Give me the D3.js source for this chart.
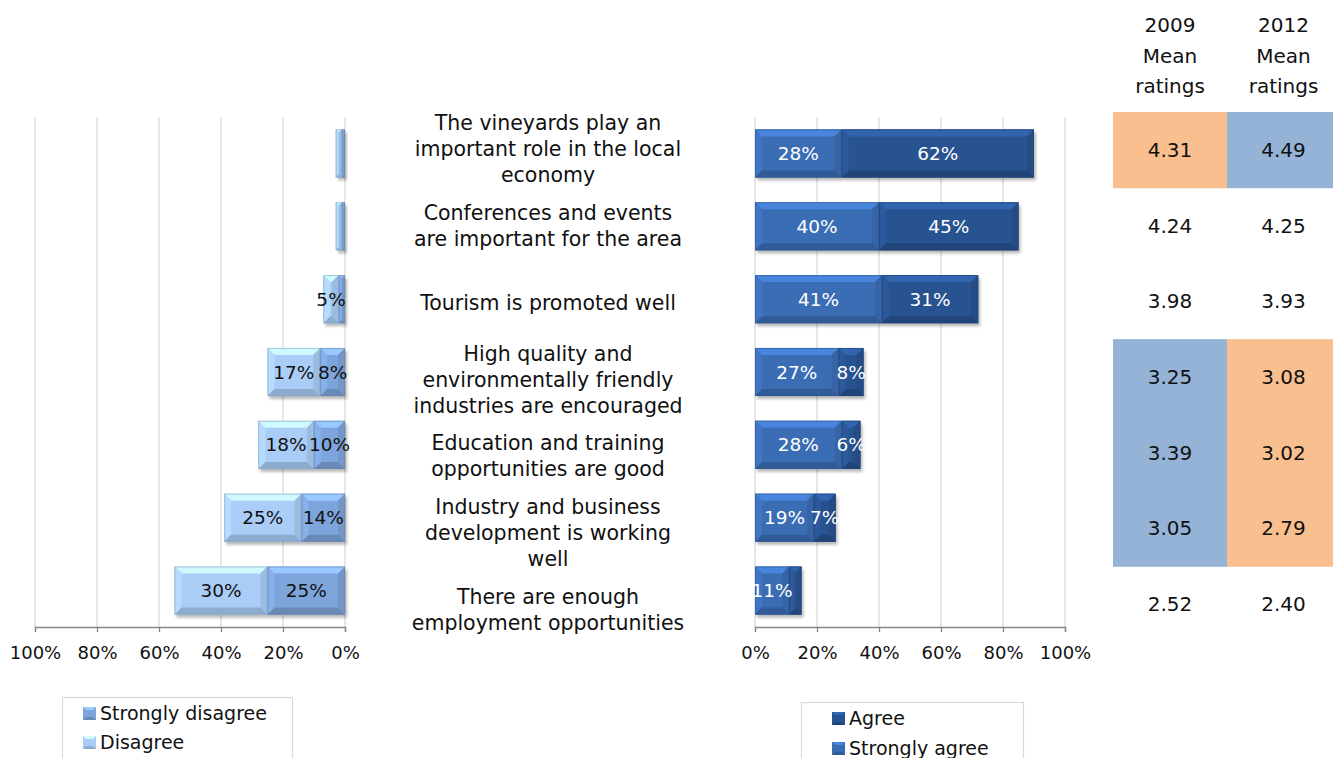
<!DOCTYPE html>
<html>
<head>
<meta charset="utf-8">
<script src="https://cdn.jsdelivr.net/npm/d3@7"></script>
<style>
  html, body { margin: 0; padding: 0; background: #fff; }
  svg { display: block; font-family: "DejaVu Sans", sans-serif; }
</style>
</head>
<body>
<svg id="chart" width="1333" height="758"></svg>
<script>
// Survey statements, one per row (pre-broken into display lines)
const statements = [
  ["The vineyards play an", "important role in the local", "economy"],
  ["Conferences and events", "are important for the area"],
  ["Tourism is promoted well"],
  ["High quality and", "environmentally friendly", "industries are encouraged"],
  ["Education and training", "opportunities are good"],
  ["Industry and business", "development is working", "well"],
  ["There are enough", "employment opportunities"]
];

// Share of respondents (%)
const stronglyDisagree = [1, 1, 2, 8, 10, 14, 25];
const disagree         = [2, 2, 5, 17, 18, 25, 30];
const agree            = [28, 40, 41, 27, 28, 19, 11];
const stronglyAgree    = [62, 45, 31, 8, 6, 7, 4];

// Mean ratings per survey year
const mean2009 = [4.31, 4.24, 3.98, 3.25, 3.39, 3.05, 2.52];
const mean2012 = [4.49, 4.25, 3.93, 3.08, 3.02, 2.79, 2.40];
const significantChange = [true, false, false, true, true, true, false];

const tickValues = [0, 20, 40, 60, 80, 100];
const tableHeaders = [["2009", "Mean", "ratings"], ["2012", "Mean", "ratings"]];

const colors = {
  stronglyDisagree: "#7ea5db",
  disagree: "#a9cdf6",
  agree: "#3b6db5",
  stronglyAgree: "#285391",
  higher: "#95b3d7",
  lower: "#f9bf8f",
  grid: "#d9d9d9",
  axis: "#868686"
};

const svg = d3.select("#chart");
const defs = svg.append("defs");
defs.append("filter").attr("id", "shadow")
  .attr("x", "-10%").attr("y", "-20%").attr("width", "130%").attr("height", "160%")
  .append("feGaussianBlur").attr("stdDeviation", 1.6);

const rows = d3.range(statements.length);
const plotTop = 117, plotBottom = 627;

const y = d3.scaleBand().domain(rows).range([plotTop, plotBottom])
  .paddingInner(0.34).paddingOuter(0.17);
const yLabel = d3.scaleBand().domain(rows).range([111, 648]);
const yTable = d3.scaleBand().domain(rows).range([112, 642]);

const xLeft = d3.scaleLinear().domain([0, 100]).range([345, 35]);
const xRight = d3.scaleLinear().domain([0, 100]).range([755, 1065]);

// Bar with an Office-style bevel and soft drop shadow
function bevelBar(g, x0, y0, w, h, color) {
  if (w <= 0) return;
  const b = Math.min(7, w / 2, h / 2);
  const c = d3.color(color);
  g.append("rect").attr("x", x0 + 2).attr("y", y0 + 3).attr("width", w).attr("height", h)
    .attr("fill", "#000").attr("opacity", 0.28).attr("filter", "url(#shadow)");
  g.append("rect").attr("x", x0).attr("y", y0).attr("width", w).attr("height", h)
    .attr("fill", c.formatHex());
  const pts = (arr) => arr.map(p => p.join(",")).join(" ");
  const x1 = x0 + w, y1 = y0 + h;
  g.append("polygon").attr("points", pts([[x0, y0], [x1, y0], [x1 - b, y0 + b], [x0 + b, y0 + b]]))
    .attr("fill", c.brighter(0.55).formatHex());
  g.append("polygon").attr("points", pts([[x0, y0], [x0 + b, y0 + b], [x0 + b, y1 - b], [x0, y1]]))
    .attr("fill", c.brighter(0.2).formatHex());
  g.append("polygon").attr("points", pts([[x1, y0], [x1 - b, y0 + b], [x1 - b, y1 - b], [x1, y1]]))
    .attr("fill", c.darker(0.25).formatHex());
  g.append("polygon").attr("points", pts([[x0, y1], [x0 + b, y1 - b], [x1 - b, y1 - b], [x1, y1]]))
    .attr("fill", c.darker(0.5).formatHex());
  g.append("rect").attr("x", x0 + 0.5).attr("y", y0 + 0.5).attr("width", Math.max(0, w - 1)).attr("height", h - 1)
    .attr("fill", "none").attr("stroke", c.darker(0.6).formatHex()).attr("stroke-width", 1).attr("opacity", 0.6);
}

function gridAndAxis(x, cls) {
  const g = svg.append("g").attr("class", cls);
  g.selectAll("line.grid").data(tickValues).join("line")
    .attr("class", "grid")
    .attr("x1", d => x(d)).attr("x2", d => x(d))
    .attr("y1", plotTop).attr("y2", plotBottom)
    .attr("stroke", colors.grid).attr("stroke-width", 1.3);
  const axis = d3.axisBottom(x).tickValues(tickValues)
    .tickFormat(d => d + "%").tickSize(5).tickPadding(14);
  const ag = svg.append("g").attr("transform", `translate(0,${plotBottom})`).call(axis);
  ag.select(".domain").attr("stroke", colors.axis).attr("stroke-width", 1.3);
  ag.selectAll(".tick line").attr("stroke", colors.axis).attr("stroke-width", 1.3);
  ag.selectAll(".tick text").attr("font-size", 18).attr("fill", "#111")
    .attr("font-family", "DejaVu Sans, sans-serif");
}

gridAndAxis(xLeft, "left-grid");
gridAndAxis(xRight, "right-grid");

// Disagreement bars (grow leftwards from 0%)
const leftG = svg.append("g");
rows.forEach(i => {
  const y0 = y(i), h = y.bandwidth();
  const sd = stronglyDisagree[i], d = disagree[i];
  bevelBar(leftG, xLeft(sd + d), y0, xLeft(sd) - xLeft(sd + d), h, colors.disagree);
  bevelBar(leftG, xLeft(sd), y0, xLeft(0) - xLeft(sd), h, colors.stronglyDisagree);
});
rows.forEach(i => {
  const cy = y(i) + y.bandwidth() / 2;
  const sd = stronglyDisagree[i], d = disagree[i];
  [[0, sd], [sd, sd + d]].forEach(([a, b]) => {
    if (b - a < 5) return;
    leftG.append("text").attr("x", (xLeft(a) + xLeft(b)) / 2).attr("y", cy)
      .attr("text-anchor", "middle").attr("dominant-baseline", "central")
      .attr("font-size", 18.5).attr("fill", "#111").text((b - a) + "%");
  });
});

// Agreement bars (grow rightwards from 0%)
const rightG = svg.append("g");
rows.forEach(i => {
  const y0 = y(i), h = y.bandwidth();
  const a = agree[i], s = stronglyAgree[i];
  bevelBar(rightG, xRight(0), y0, xRight(a) - xRight(0), h, colors.agree);
  bevelBar(rightG, xRight(a), y0, xRight(a + s) - xRight(a), h, colors.stronglyAgree);
});
rows.forEach(i => {
  const cy = y(i) + y.bandwidth() / 2;
  const a = agree[i], s = stronglyAgree[i];
  [[0, a], [a, a + s]].forEach(([p, q]) => {
    if (q - p < 5) return;
    rightG.append("text").attr("x", (xRight(p) + xRight(q)) / 2).attr("y", cy)
      .attr("text-anchor", "middle").attr("dominant-baseline", "central")
      .attr("font-size", 18.5).attr("fill", "#fff").text((q - p) + "%");
  });
});

// Statement labels between the two charts
const labelG = svg.append("g");
rows.forEach(i => {
  const lines = statements[i];
  const lh = 26;
  const cy = yLabel(i) + yLabel.bandwidth() / 2;
  const t = labelG.append("text").attr("text-anchor", "middle")
    .attr("font-size", 20.5).attr("fill", "#111");
  lines.forEach((ln, k) => {
    t.append("tspan").attr("x", 548)
      .attr("y", cy + (k - (lines.length - 1) / 2) * lh)
      .attr("dominant-baseline", "central").text(ln);
  });
});

// Mean ratings table
const colX = [[1113, 1227], [1227, 1340]];
const tableG = svg.append("g");
tableHeaders.forEach((hdr, c) => {
  const cx = (colX[c][0] + colX[c][1]) / 2;
  hdr.forEach((ln, k) => {
    tableG.append("text").attr("x", cx).attr("y", 25 + k * 30.5)
      .attr("text-anchor", "middle").attr("dominant-baseline", "central")
      .attr("font-size", 20).attr("fill", "#111").text(ln);
  });
});
rows.forEach(i => {
  const vals = [mean2009[i], mean2012[i]];
  vals.forEach((v, c) => {
    if (significantChange[i]) {
      const other = vals[1 - c];
      tableG.append("rect").attr("x", colX[c][0]).attr("y", yTable(i))
        .attr("width", colX[c][1] - colX[c][0]).attr("height", yTable.bandwidth() + 0.5)
        .attr("fill", v > other ? colors.higher : colors.lower);
    }
  });
});
rows.forEach(i => {
  [mean2009[i], mean2012[i]].forEach((v, c) => {
    tableG.append("text").attr("x", (colX[c][0] + colX[c][1]) / 2)
      .attr("y", yTable(i) + yTable.bandwidth() / 2)
      .attr("text-anchor", "middle").attr("dominant-baseline", "central")
      .attr("font-size", 20).attr("fill", "#111").text(v.toFixed(2));
  });
});

// Legends
function legend(x0, y0, w, h, items, sx, tx, firstY, gap) {
  const g = svg.append("g");
  g.append("rect").attr("x", x0 + 0.5).attr("y", y0 + 0.5).attr("width", w).attr("height", h)
    .attr("fill", "#fff").attr("stroke", colors.grid).attr("stroke-width", 1.2);
  items.forEach((it, k) => {
    const cy = firstY + k * gap;
    bevelSwatch(g, sx, cy - 6, 13, 13, it.color);
    g.append("text").attr("x", tx).attr("y", cy).attr("dominant-baseline", "central")
      .attr("font-size", 19).attr("fill", "#111").text(it.label);
  });
}
function bevelSwatch(g, x0, y0, w, h, color) {
  const c = d3.color(color), b = 3;
  const pts = (arr) => arr.map(p => p.join(",")).join(" ");
  const x1 = x0 + w, y1 = y0 + h;
  g.append("rect").attr("x", x0).attr("y", y0).attr("width", w).attr("height", h).attr("fill", c.formatHex());
  g.append("polygon").attr("points", pts([[x0, y0], [x1, y0], [x1 - b, y0 + b], [x0 + b, y0 + b]])).attr("fill", c.brighter(0.6).formatHex());
  g.append("polygon").attr("points", pts([[x0, y1], [x0 + b, y1 - b], [x1 - b, y1 - b], [x1, y1]])).attr("fill", c.darker(0.5).formatHex());
}

legend(62, 697, 230, 70, [
  { label: "Strongly disagree", color: colors.stronglyDisagree },
  { label: "Disagree", color: colors.disagree }
], 83, 100, 713, 29);

legend(801, 702, 222, 70, [
  { label: "Agree", color: colors.stronglyAgree },
  { label: "Strongly agree", color: colors.agree }
], 832, 849, 718, 30);
</script>
</body>
</html>
